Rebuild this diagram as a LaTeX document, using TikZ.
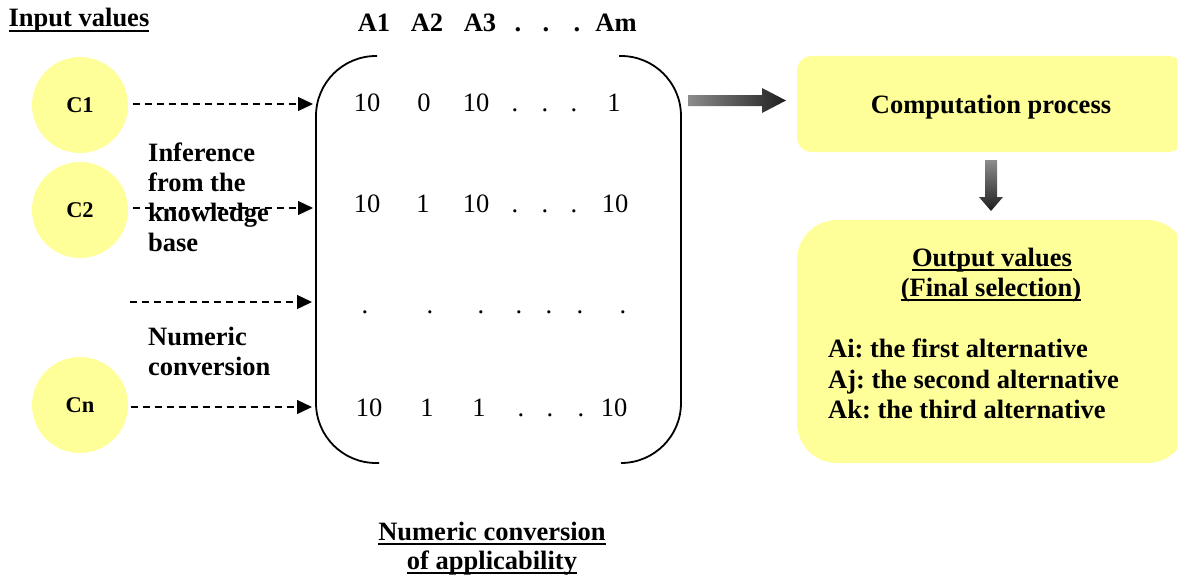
\documentclass[tikz,border=0pt]{standalone}
\usepackage{fontspec}
\setmainfont{Liberation Serif}
\usetikzlibrary{arrows.meta}
\definecolor{cyellow}{HTML}{FFFF99}
\newcommand\myul[1]{\setbox0\hbox{#1}\rlap{\vrule width\wd0 height -3pt depth 4.8pt}\box0}
\frenchspacing
\begin{document}
\begin{tikzpicture}[x=1pt,y=-1pt,
  big/.style={font=\fontsize{26.5}{30}\selectfont\bfseries, inner sep=0pt},
  num/.style={font=\fontsize{26.5}{30}\selectfont, inner sep=0pt, anchor=base},
  hdr/.style={font=\fontsize{26.5}{30}\selectfont\bfseries, inner sep=0pt, anchor=base},
  circ/.style={circle, fill=cyellow, minimum size=96pt, inner sep=0pt, font=\fontsize{22.5}{26}\selectfont\bfseries},
  dasharrow/.style={dash pattern=on 7pt off 5pt, line width=1.3pt, -{Triangle[length=15pt,width=14pt]}},
  bracket/.style={line width=1.8pt, rounded corners=60pt},
  ybox/.style={fill=cyellow, inner sep=0pt},
]
\clip (0,0) rectangle (1177,578);

% title
\node[big, anchor=base] (inp) at (79,27) {\myul{Input values}};

% circles
\node[circ] (c1) at (80,105) {C1};
\node[circ] (c2) at (80,210) {C2};
\node[circ] (cn) at (80,405) {Cn};

% arrow end points
\coordinate (e1) at (313,104);
\coordinate (e2) at (313,208);
\coordinate (s3) at (130,302);
\coordinate (e3) at (312,302);
\coordinate (en) at (312,407);

\draw[dasharrow, shorten <=5pt] (c1.east |- e1) -- (e1);
\draw[dasharrow, shorten <=5pt] (c2.east |- e2) -- (e2);
\draw[dasharrow] (s3) -- (e3);
\draw[dasharrow, shorten <=3pt] (cn.east |- en) -- (en);

% side labels
\node[big, anchor=north west, align=left] (inf) at (148,143) {Inference\\from the\\knowledge\\base};
\node[big, anchor=north west, align=left] (numc) at (148,327) {Numeric\\conversion};

% brackets
\draw[bracket] (377,56) -| (316,463) -- (379,463);
\draw[bracket] (619,56) -| (681,463) -- (622,463);

% header
\node[hdr] (h1) at (374,32) {A1};
\node[hdr] (h2) at (427,32) {A2};
\node[hdr] (h3) at (480,32) {A3};
\node[hdr] (hd1) at (518,32) {.};
\node[hdr] (hd2) at (546,32) {.};
\node[hdr] (hd3) at (577,32) {.};
\node[hdr] (hm) at (616,32) {Am};

% row 1
\node[num] (r1a) at (367,111) {10};
\node[num] (r1b) at (424,111) {0};
\node[num] (r1c) at (476,111) {10};
\node[num] (r1d) at (515,111) {.};
\node[num] (r1e) at (545,111) {.};
\node[num] (r1f) at (574,111) {.};
\node[num] (r1g) at (614,111) {1};
% row 2
\node[num] (r2a) at (367,212) {10};
\node[num] (r2b) at (423,212) {1};
\node[num] (r2c) at (476,212) {10};
\node[num] (r2d) at (515,212) {.};
\node[num] (r2e) at (545,212) {.};
\node[num] (r2f) at (574,212) {.};
\node[num] (r2g) at (615,212) {10};
% row 3
\node[num] (r3a) at (365,313) {.};
\node[num] (r3b) at (430,313) {.};
\node[num] (r3c) at (481,313) {.};
\node[num] (r3d) at (519,313) {.};
\node[num] (r3e) at (549,313) {.};
\node[num] (r3f) at (580,313) {.};
\node[num] (r3g) at (623,313) {.};
% row n
\node[num] (r4a) at (369,416) {10};
\node[num] (r4b) at (427,416) {1};
\node[num] (r4c) at (479,416) {1};
\node[num] (r4d) at (521,416) {.};
\node[num] (r4e) at (550,416) {.};
\node[num] (r4f) at (581,416) {.};
\node[num] (r4g) at (614,416) {10};

% bottom label
\node[big, anchor=base] (bl1) at (492,540) {\myul{Numeric conversion}};
\node[big, anchor=base] (bl2) at (492,569) {\myul{of applicability}};

% boxes
\node[ybox, rounded corners=15pt, minimum width=386pt, minimum height=96pt] (comp) at (990,104) {};
\node[big, anchor=base] (compt) at (991,113) {Computation process};
\node[ybox, rounded corners=40pt, minimum width=390pt, minimum height=243pt] (out) at (992,341.5) {};
\node[big, anchor=base] (o1) at (992,266) {\myul{Output values}};
\node[big, anchor=base] (o2) at (991,296) {\myul{(Final selection)}};
\node[big, anchor=base west] (o3) at (828,357) {Ai: the first alternative};
\node[big, anchor=base west] (o4) at (828,388) {Aj: the second alternative};
\node[big, anchor=base west] (o5) at (828,418) {Ak: the third alternative};

% gradient arrows
\shade[left color=black!45, right color=black!88]
  (688,95) -- (762,95) -- (762,88) -- (786,100.5) -- (762,113) -- (762,106) -- (688,106) -- cycle;
\shade[top color=black!45, bottom color=black!88]
  (985,160) -- (997,160) -- (997,197) -- (1003,197) -- (991,211) -- (979,197) -- (985,197) -- cycle;
\end{tikzpicture}
\end{document}
